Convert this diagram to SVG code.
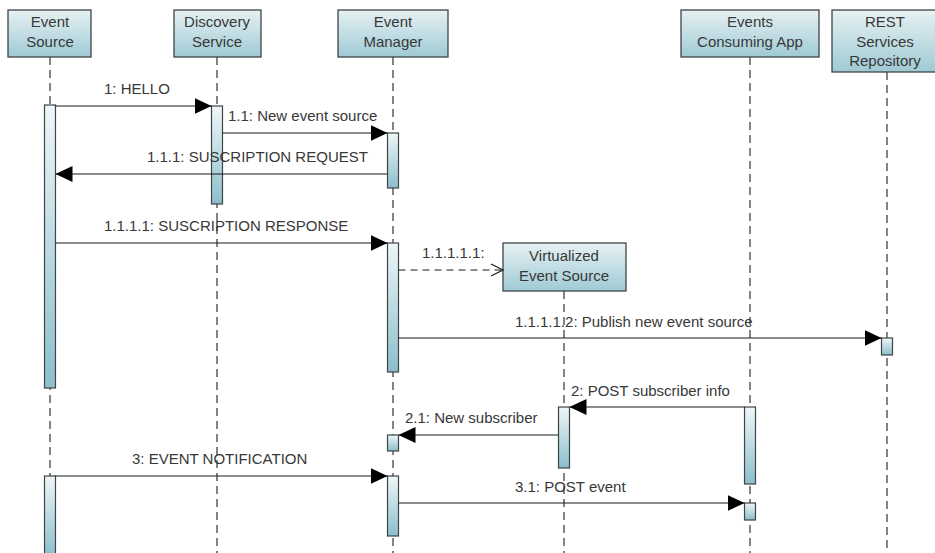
<svg xmlns="http://www.w3.org/2000/svg" width="935" height="553" viewBox="0 0 935 553">
<style>
.hdr{fill:url(#gh);stroke:#3f4447;stroke-width:1.3}
.act{fill:url(#ga);stroke:#3f4447;stroke-width:1.2}
.life{stroke:#333;stroke-width:1.2;stroke-dasharray:8 5;fill:none}
.t{font-family:"Liberation Sans",Arial,sans-serif;font-size:15px;fill:#383838}
.c{text-anchor:middle}
.msg{stroke:#1a1a1a;stroke-width:1.2;fill:none;marker-end:url(#fill)}
.ret{stroke:#1a1a1a;stroke-width:1.2;fill:none;stroke-dasharray:7 5;marker-end:url(#open)}
</style>
<defs>
<linearGradient id="gh" x1="0" y1="0" x2="0" y2="1">
<stop offset="0" stop-color="#e6f1f3"/>
<stop offset="1" stop-color="#9fcad4"/>
</linearGradient>
<linearGradient id="ga" x1="0" y1="0" x2="0" y2="1">
<stop offset="0" stop-color="#eef6f8"/>
<stop offset="1" stop-color="#8bbfcb"/>
</linearGradient>
<marker id="fill" markerUnits="userSpaceOnUse" markerWidth="17" markerHeight="16" refX="17" refY="8" orient="auto">
<path d="M0,0 L17,8 L0,16 z" fill="#000"/>
</marker>
<marker id="open" markerUnits="userSpaceOnUse" markerWidth="14" markerHeight="14" refX="13" refY="7" orient="auto">
<path d="M1,1 L13,7 L1,13" fill="none" stroke="#222" stroke-width="1.3"/>
</marker>
</defs>
<rect width="935" height="553" fill="#fff"/>

<g id="event-source">
<line class="life" x1="50" y1="57" x2="50" y2="553"/>
<rect class="hdr" x="8" y="10" width="83" height="47"/>
<text class="t c" x="50" y="27">Event</text>
<text class="t c" x="50" y="47">Source</text>
<rect class="act" x="44.5" y="105" width="11" height="283"/>
<rect class="act" x="44.5" y="476" width="11" height="80"/>
</g>

<g id="discovery-service">
<line class="life" x1="217" y1="57" x2="217" y2="553"/>
<rect class="hdr" x="174" y="10" width="87" height="47"/>
<text class="t c" x="217" y="27">Discovery</text>
<text class="t c" x="217" y="47">Service</text>
<rect class="act" x="211.5" y="106" width="11" height="98"/>
</g>

<g id="event-manager">
<line class="life" x1="393" y1="57" x2="393" y2="553"/>
<rect class="hdr" x="338" y="10" width="110" height="47"/>
<text class="t c" x="393" y="27">Event</text>
<text class="t c" x="393" y="47">Manager</text>
<rect class="act" x="387.5" y="133" width="11" height="55"/>
<rect class="act" x="387.5" y="243" width="11" height="129"/>
<rect class="act" x="387.5" y="435" width="11" height="16"/>
<rect class="act" x="387.5" y="476" width="11" height="60"/>
</g>

<g id="virtualized-event-source">
<line class="life" x1="564" y1="291" x2="564" y2="553"/>
<rect class="hdr" x="503" y="243" width="123" height="48"/>
<text class="t c" x="564" y="261">Virtualized</text>
<text class="t c" x="564" y="281">Event Source</text>
<rect class="act" x="558.5" y="407" width="11" height="61"/>
</g>

<g id="events-consuming-app">
<line class="life" x1="750" y1="57" x2="750" y2="553"/>
<rect class="hdr" x="681" y="10" width="138" height="47"/>
<text class="t c" x="750" y="27">Events</text>
<text class="t c" x="750" y="47">Consuming App</text>
<rect class="act" x="744.5" y="407" width="11" height="77"/>
<rect class="act" x="744.5" y="503" width="11" height="17"/>
</g>

<g id="rest-services-repository">
<line class="life" x1="887" y1="72" x2="887" y2="553"/>
<rect class="hdr" x="832" y="10" width="110" height="62"/>
<text class="t c" x="885" y="27">REST</text>
<text class="t c" x="885" y="47">Services</text>
<text class="t c" x="885" y="66">Repository</text>
<rect class="act" x="881.5" y="338" width="11" height="17"/>
</g>

<g id="connectors">
<line class="msg" x1="55.5" y1="106" x2="211.5" y2="106"/>
<text class="t" x="104" y="94">1: HELLO</text>
<line class="msg" x1="222.5" y1="133" x2="387.5" y2="133"/>
<text class="t" x="228" y="121">1.1: New event source</text>
<line class="msg" x1="387.5" y1="174" x2="55.5" y2="174"/>
<text class="t" x="147" y="162">1.1.1: SUSCRIPTION REQUEST</text>
<line class="msg" x1="55.5" y1="243" x2="387.5" y2="243"/>
<text class="t" x="104" y="231">1.1.1.1: SUSCRIPTION RESPONSE</text>
<line class="ret" x1="398.5" y1="270" x2="503" y2="270"/>
<text class="t" x="422" y="258">1.1.1.1.1:</text>
<line class="msg" x1="398.5" y1="338" x2="881.5" y2="338"/>
<text class="t" x="515" y="327">1.1.1.1.2: Publish new event source</text>
<line class="msg" x1="744.5" y1="407" x2="569.5" y2="407"/>
<text class="t" x="571" y="396">2: POST subscriber info</text>
<line class="msg" x1="558.5" y1="435" x2="398.5" y2="435"/>
<text class="t" x="405" y="423">2.1: New subscriber</text>
<line class="msg" x1="55.5" y1="476" x2="387.5" y2="476"/>
<text class="t" x="132" y="464">3: EVENT NOTIFICATION</text>
<line class="msg" x1="398.5" y1="503" x2="744.5" y2="503"/>
<text class="t" x="515" y="492">3.1: POST event</text>
</g>
</svg>
